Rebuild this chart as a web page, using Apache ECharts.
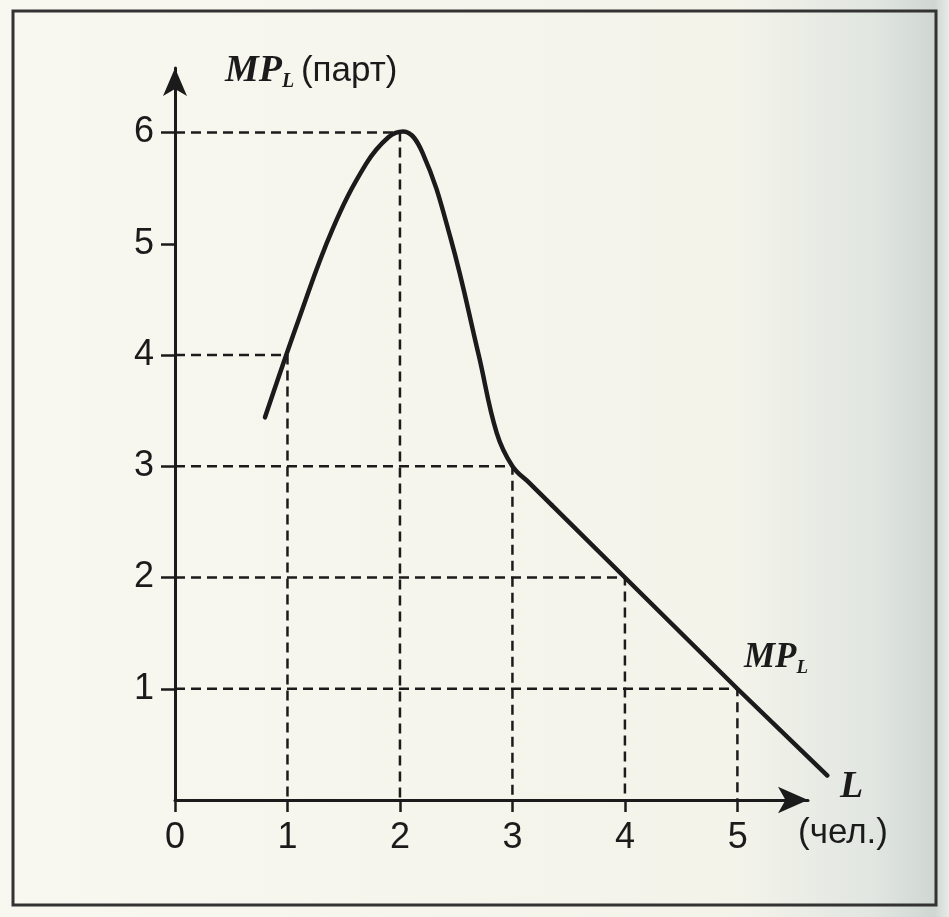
<!DOCTYPE html>
<html>
<head>
<meta charset="utf-8">
<script src="https://cdn.jsdelivr.net/npm/echarts@6/dist/echarts.min.js"></script>
<style>
  html, body { margin: 0; padding: 0; }
  #chart { width: 949px; height: 917px; }
</style>
</head>
<body>
<div id="chart"></div>
<script>
// curve MP_L, rising part and the bend down to the kink near L = 3
var riseL  = [0.80, 1.10, 1.40, 1.70, 1.90, 2.03, 2.20, 2.45, 2.70, 2.86, 3.00, 3.15, 3.35];
var riseMP = [3.44, 4.32, 5.13, 5.72, 5.96, 6.01, 5.82, 5.05, 4.00, 3.30, 3.00, 2.85, 2.65];
// straight falling part
var fallL  = [3.35, 4.00, 5.00, 5.80];
var fallMP = [2.65, 2.00, 1.00, 0.22];
// dashed guides
var guideL  = [1, 2, 3, 4, 5];
var guideMP = [4, 6, 3, 2, 1];
var xTicks = [0, 1, 2, 3, 4, 5];
var yTicks = [1, 2, 3, 4, 5, 6];

var ink = '#1b1b1b';
var sans = "'Liberation Sans', Arial, sans-serif";
var serif = "'Liberation Serif', 'Times New Roman', serif";

function pairs(xs, ys) {
    var out = [];
    for (var i = 0; i < xs.length; i++) out.push([xs[i], ys[i]]);
    return out;
}

var series = [];
for (var i = 0; i < guideL.length; i++) {
    series.push({
        type: 'line',
        xAxisIndex: 1, yAxisIndex: 1,
        data: [[0, guideMP[i]], [guideL[i], guideMP[i]], [guideL[i], 0]],
        symbol: 'none',
        silent: true,
        z: 1,
        lineStyle: { color: ink, width: 2.5, type: [10, 6] }
    });
}
series.push({
    type: 'line',
    xAxisIndex: 1, yAxisIndex: 1,
    data: pairs(riseL, riseMP),
    smooth: 0.4,
    symbol: 'none',
    z: 5,
    lineStyle: { color: ink, width: 4.5, cap: 'round', join: 'round' }
});
series.push({
    type: 'line',
    xAxisIndex: 1, yAxisIndex: 1,
    data: pairs(fallL, fallMP),
    symbol: 'none',
    z: 5,
    lineStyle: { color: ink, width: 4.5, cap: 'round', join: 'round' }
});

var dom = document.getElementById('chart');
var myChart = echarts.init(dom);
var option = {
    backgroundColor: {
        type: 'linear', x: 0, y: 0, x2: 1, y2: 0,
        colorStops: [
            { offset: 0, color: '#f9f8f0' },
            { offset: 0.78, color: '#f3f3ea' },
            { offset: 0.92, color: '#e1e6e1' },
            { offset: 0.985, color: '#d0d7d3' },
            { offset: 1, color: '#e8ebe8' }
        ]
    },
    animation: false,
    // grid 0 carries the visible axes, grid 1 (same scale, wider) carries the data
    grid: [
        { left: 175, top: 68, width: 633, height: 732 },
        { left: 175, top: 68, width: 658, height: 732 }
    ],
    xAxis: [{
        type: 'value',
        gridIndex: 0,
        min: 0,
        max: 5.625,
        interval: 1,
        splitLine: { show: false },
        axisLine: {
            onZero: false,
            lineStyle: { color: ink, width: 3 },
            symbol: ['none', 'arrow'],
            symbolSize: [20, 30]
        },
        axisTick: { show: true, length: 12, lineStyle: { color: ink, width: 2.5 } },
        axisLabel: {
            color: ink, fontSize: 36, fontFamily: sans, margin: 20,
            showMaxLabel: false,
            formatter: function (v) { return xTicks.indexOf(v) >= 0 ? String(v) : ''; }
        }
    }, {
        type: 'value',
        gridIndex: 1,
        min: 0,
        max: 5.85,
        show: false
    }],
    yAxis: [{
        type: 'value',
        gridIndex: 0,
        min: 0,
        max: 6.58,
        interval: 1,
        splitLine: { show: false },
        axisLine: {
            onZero: false,
            lineStyle: { color: ink, width: 3 },
            symbol: ['none', 'arrow'],
            symbolSize: [18, 28]
        },
        axisTick: { show: true, length: 14, lineStyle: { color: ink, width: 2.5 } },
        axisLabel: {
            color: ink, fontSize: 36, fontFamily: sans, margin: 21,
            showMinLabel: false,
            showMaxLabel: false,
            formatter: function (v) { return yTicks.indexOf(v) >= 0 ? String(v) : ''; }
        }
    }, {
        type: 'value',
        gridIndex: 1,
        min: 0,
        max: 6.58,
        show: false
    }],
    graphic: [
        {
            type: 'rect',
            shape: { x: 13, y: 11, width: 923, height: 894 },
            style: { fill: 'none', stroke: '#333', lineWidth: 3 },
            silent: true
        },
        {
            type: 'text',
            left: 225, top: 52,
            style: {
                text: '{mp|MP}{sub|L}  {u|(парт)}',
                rich: {
                    mp: { fontFamily: serif, fontStyle: 'italic', fontWeight: 'bold', fontSize: 38, fill: ink },
                    sub: { fontFamily: serif, fontStyle: 'italic', fontWeight: 'bold', fontSize: 20, fill: ink, padding: [22, 0, 0, 0] },
                    u: { fontFamily: sans, fontSize: 35, fill: ink }
                }
            }
        },
        {
            type: 'text',
            left: 744, top: 640,
            style: {
                text: '{mp|MP}{sub|L}',
                rich: {
                    mp: { fontFamily: serif, fontStyle: 'italic', fontWeight: 'bold', fontSize: 35, fill: ink },
                    sub: { fontFamily: serif, fontStyle: 'italic', fontWeight: 'bold', fontSize: 19, fill: ink, padding: [22, 0, 0, 0] }
                }
            }
        },
        {
            type: 'text',
            left: 840, top: 768,
            style: {
                text: 'L',
                fontFamily: serif, fontStyle: 'italic', fontWeight: 'bold', fontSize: 38, fill: ink
            }
        },
        {
            type: 'text',
            left: 798, top: 816,
            style: { text: '(чел.)', fontFamily: sans, fontSize: 35, fill: ink }
        }
    ],
    series: series
};
myChart.setOption(option, true);
</script>
</body>
</html>
